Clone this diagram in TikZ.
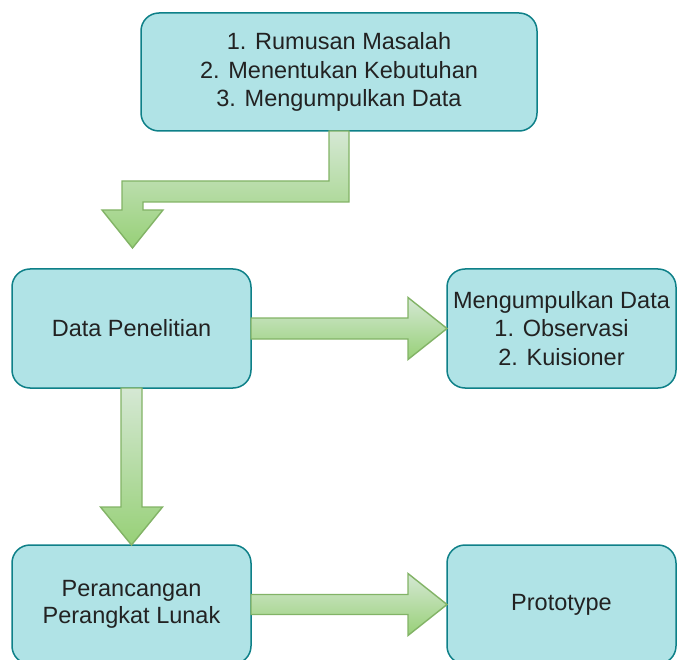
\documentclass[tikz,border=0pt]{standalone}
\usepackage{fontspec}
\setmainfont{Liberation Sans}
\usetikzlibrary{calc}
\definecolor{boxfill}{HTML}{B0E3E6}
\definecolor{boxline}{HTML}{0E8088}
\definecolor{arrlight}{HTML}{D5E8D4}
\definecolor{arrdark}{HTML}{97D077}
\definecolor{arrline}{HTML}{82B366}
\definecolor{txt}{HTML}{222222}
\tikzset{
  procbox/.style={draw=boxline, fill=boxfill, line width=1.5pt, rounded corners=18pt,
    inner sep=0pt, outer sep=0pt, align=center, text=txt,
    font=\fontsize{23.5pt}{28.5pt}\selectfont},
  blockarrow/.style={draw=arrline, line width=1.4pt, top color=arrlight, bottom color=arrdark, line join=miter},
}
\begin{document}
\begin{tikzpicture}[x=1pt, y=-1pt]
\useasboundingbox (0,0) rectangle (677,660);

\node[procbox, minimum width=396pt, minimum height=118pt] (top) at (339,72)
  {1. Rumusan Masalah\\2. Menentukan Kebutuhan\\3. Mengumpulkan Data};
\node[procbox, minimum width=239pt, minimum height=119pt] (dp) at (131.5,328.5)
  {Data Penelitian};
\node[procbox, minimum width=229pt, minimum height=119pt] (md) at (561.5,328.5)
  {Mengumpulkan Data\\1. Observasi\\2. Kuisioner};
\node[procbox, minimum width=239pt, minimum height=119pt, font=\fontsize{23.5pt}{27pt}\selectfont] (ppl) at (131.5,604.5)
  {Perancangan\\Perangkat Lunak};
\node[procbox, minimum width=229pt, minimum height=119pt] (proto) at (561.5,604.5)
  {Prototype};

% elbow arrow from top box to above Data Penelitian
\coordinate (etip) at ($(dp.north)+(1,-21)$);
\draw[blockarrow]
  ($(top.south)+(-10,0)$) -- ($(top.south)+(-10,50)$)
  -- ($(etip)+(-10.5,-67)$) -- ($(etip)+(-10.5,-38)$)
  -- ($(etip)+(-30.5,-38)$) -- (etip) -- ($(etip)+(30.5,-38)$)
  -- ($(etip)+(10.5,-38)$) -- ($(etip)+(10.5,-46)$)
  -- ($(top.south)+(10,71)$) -- ($(top.south)+(10,0)$) -- cycle;

% Data Penelitian -> Mengumpulkan Data
\draw[blockarrow]
  ($(dp.east)+(0,-10.5)$) -- ($(md.west)+(-39,-10.5)$) -- ($(md.west)+(-39,-31)$)
  -- (md.west) -- ($(md.west)+(-39,31)$) -- ($(md.west)+(-39,10.5)$)
  -- ($(dp.east)+(0,10.5)$) -- cycle;

% Data Penelitian -> Perancangan
\draw[blockarrow]
  ($(dp.south)+(-10.5,0)$) -- ($(ppl.north)+(-10.5,-38)$) -- ($(ppl.north)+(-31,-38)$)
  -- (ppl.north) -- ($(ppl.north)+(31,-38)$) -- ($(ppl.north)+(10.5,-38)$)
  -- ($(dp.south)+(10.5,0)$) -- cycle;

% Perancangan -> Prototype
\draw[blockarrow]
  ($(ppl.east)+(0,-10)$) -- ($(proto.west)+(-39,-10)$) -- ($(proto.west)+(-39,-31)$)
  -- (proto.west) -- ($(proto.west)+(-39,31)$) -- ($(proto.west)+(-39,10)$)
  -- ($(ppl.east)+(0,10)$) -- cycle;
\end{tikzpicture}
\end{document}
